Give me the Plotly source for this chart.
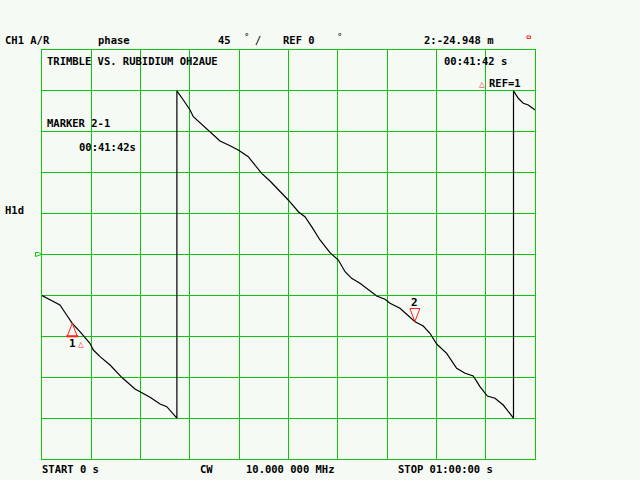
import numpy as np
import plotly.graph_objects as go

# ---- data ----
time_s = [0, 82, 131, 180, 221, 277, 350, 375, 424, 497, 582, 679, 716, 789, 862, 911, 985,
          985, 1032, 1081, 1105, 1166, 1227, 1300, 1373, 1433, 1506, 1555, 1604, 1665, 1738,
          1798, 1872, 1920, 1969, 2030, 2103, 2164, 2213, 2261, 2322, 2383, 2444, 2505, 2541,
          2614, 2687, 2724, 2784, 2833, 2882, 2955, 3028, 3089, 3149, 3198, 3252, 3308, 3368,
          3443, 3443, 3478, 3514, 3551, 3600]
phase_deg = [-45.1, -51.2, -55.6, -66.6, -75.7, -84.9, -97.7, -105.1, -112.4, -121.6, -135.1,
             -148.0, -150.9, -157.1, -164.5, -167.4, -180,
             180, 170.0, 159.0, 151.6, 143.2, 135.1, 124.9, 119.7, 115.0, 107.6, 98.5, 89.3,
             80.9, 69.9, 60.0, 47.1, 41.6, 30.6, 16.0, 2.0, -6.1, -18.9, -26.2, -31.7, -39.1,
             -45.7, -49.3, -53.7, -59.2, -68.4, -73.9, -78.7, -86.7, -98.5, -108.7, -125.2,
             -130.7, -133.7, -145.4, -155.7, -158.2, -165.6, -180,
             180, 171.9, 166.4, 164.5, 159.0]
marker_times = [221, 2723]
marker_names = ["1", "2"]

x_range = [0, 3600]
y_range = [-225, 225]
x_div = 360
y_div = 45

GREEN = "#10c410"
BG = "#f5faf5"
RED = "#ff2020"
FONT = "DejaVu Sans Mono"

# plot area in pixels
L, R, T, B = 42, 535, 50, 459


def px(x):
    return (x - L) / (R - L)


def py(y):
    return (B - y) / (B - T)


fig = go.Figure()
fig.add_trace(go.Scatter(x=time_s, y=phase_deg, mode="lines",
                         line=dict(color="black", width=1.2), hoverinfo="skip",
                         showlegend=False))

mk_phase = np.interp(marker_times, time_s[:16], phase_deg[:16]).tolist()
mk_phase[1] = float(np.interp(marker_times[1], time_s[17:58], phase_deg[17:58]))

shapes = []
annotations = []

# marker 1 (up triangle, tip on trace)
shapes.append(dict(type="path", xref="x", yref="y", xsizemode="pixel", ysizemode="pixel",
                   xanchor=marker_times[0], yanchor=mk_phase[0],
                   path="M0,0 L-5,-13 L5,-13 Z", line=dict(color=RED, width=1)))
shapes.append(dict(type="path", xref="x", yref="y", xsizemode="pixel", ysizemode="pixel",
                   xanchor=marker_times[0], yanchor=mk_phase[0],
                   path="M-6,-13 L6,-13", line=dict(color=RED, width=2)))
annotations.append(dict(x=marker_times[0], y=mk_phase[0], xref="x", yref="y",
                        text="<b>" + marker_names[0] + "</b>", showarrow=False, yshift=-20, xshift=0,
                        font=dict(color="black", size=11, family=FONT)))
annotations.append(dict(x=marker_times[0], y=mk_phase[0], xref="x", yref="y",
                        text="△", showarrow=False, yshift=-20, xshift=9,
                        font=dict(color=RED, size=9.5, family=FONT)))
# marker 2 (down triangle, tip on trace)
shapes.append(dict(type="path", xref="x", yref="y", xsizemode="pixel", ysizemode="pixel",
                   xanchor=marker_times[1], yanchor=mk_phase[1],
                   path="M0,0 L-5,13 L5,13 Z", line=dict(color=RED, width=1)))
annotations.append(dict(x=marker_times[1], y=mk_phase[1], xref="x", yref="y",
                        text="<b>" + marker_names[1] + "</b>", showarrow=False, yshift=19, xshift=0,
                        font=dict(color="black", size=11, family=FONT)))

# reference position flag on the left
shapes.append(dict(type="path", xref="paper", yref="paper",
                   path="M%f,%f L%f,%f L%f,%f L%f,%f Z" % (px(35.5), py(252.5), px(38.5), py(252.5),
                                                         px(41.5), py(254.5), px(35.5), py(256.5)),
                   line=dict(color=GREEN, width=1)))
# small red indicator top right
shapes.append(dict(type="rect", xref="paper", yref="paper",
                   x0=px(527), x1=px(530.5), y0=py(38.5), y1=py(36),
                   line=dict(color=RED, width=1)))


def txt(x, y, s, color="black", size=10.5):
    annotations.append(dict(x=px(x), y=py(y), xref="paper", yref="paper", text=s,
                            showarrow=False, xanchor="left", yanchor="middle",
                            font=dict(color=color, size=size, family=FONT), borderpad=0))


txt(4, 40.5, "<b>CH1 A/R</b>")
txt(97, 40.5, "<b>phase</b>")
txt(217, 40.5, "<b>45</b>")
txt(243, 37.5, "°", size=9)
txt(254, 40.5, "/")
txt(282, 40.5, "<b>REF 0</b>")
txt(336, 37.5, "°", size=9)
txt(423, 40.5, "<b>2:-24.948 m</b>")
txt(46, 60.7, "<b>TRIMBLE VS. RUBIDIUM OH2AUE</b>")
txt(443, 60.7, "<b>00:41:42 s</b>")
txt(478, 83, "△", color=RED, size=9.5)
txt(488, 83, "<b>REF=1</b>")
txt(46, 123.3, "<b>MARKER 2-1</b>")
txt(78, 146.7, "<b>00:41:42s</b>")
txt(4, 210, "<b>H1d</b>")
txt(41, 469.5, "<b>START 0 s</b>")
txt(198.5, 469.5, "<b>CW</b>")
txt(245, 469.5, "<b>10.000 000 MHz</b>")
txt(397, 469.5, "<b>STOP 01:00:00 s</b>")

axis_common = dict(showticklabels=False, ticks="", showgrid=True, gridcolor=GREEN,
                   gridwidth=1, zeroline=False, showline=True, mirror=True,
                   linecolor=GREEN, linewidth=1, fixedrange=True)

fig.update_layout(
    width=640, height=480, autosize=False,
    margin=dict(l=L, r=640 - R, t=T, b=480 - B, pad=0),
    paper_bgcolor=BG, plot_bgcolor=BG,
    xaxis=dict(range=x_range, tick0=0, dtick=x_div, **axis_common),
    yaxis=dict(range=y_range, tick0=y_range[0], dtick=y_div, **axis_common),
    shapes=shapes, annotations=annotations, showlegend=False,
)

fig.write_html("out.html", config={"displayModeBar": False},
               post_script="document.body.style.margin='0';document.body.style.background='%s';" % BG)
